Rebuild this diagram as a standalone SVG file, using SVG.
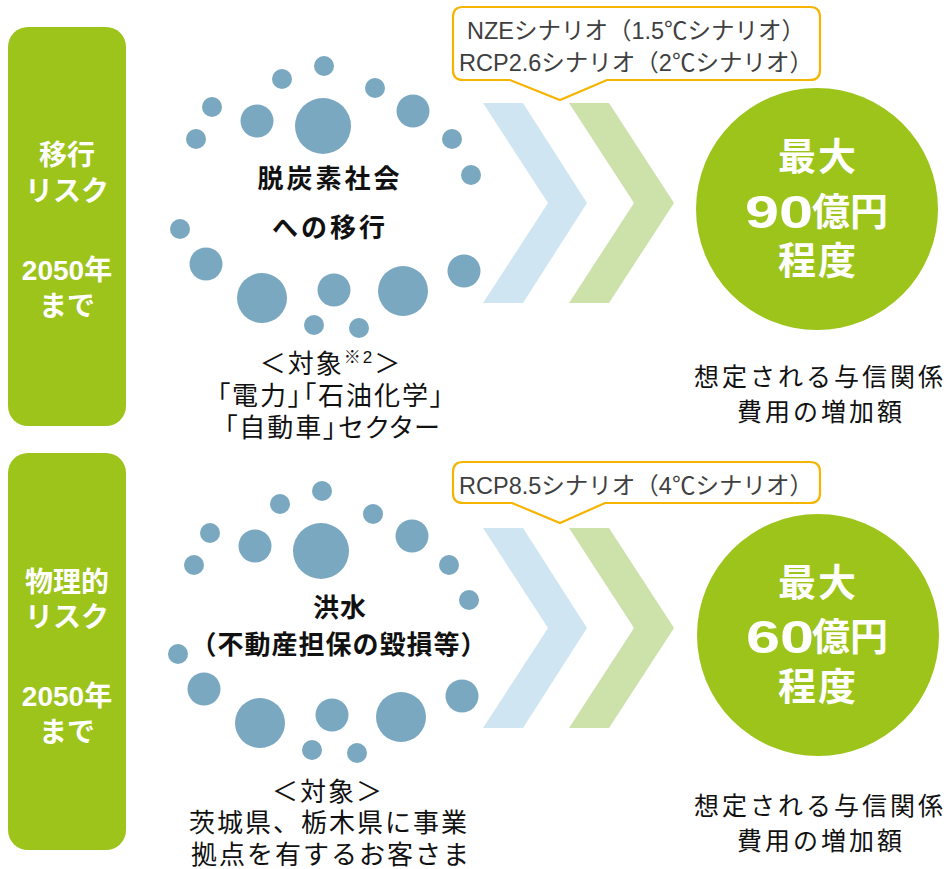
<svg xmlns="http://www.w3.org/2000/svg" width="946" height="869" viewBox="0 0 946 869">
<style>
text{font-family:"Liberation Sans","Noto Sans CJK JP",sans-serif;dominant-baseline:central;text-anchor:middle}
.side{fill:#9dc41b}
.sidet{font-size:28px;font-weight:bold;fill:#fff}
.dot{fill:#7aa8c0}
.lbl{font-size:26px;font-weight:bold;fill:#111;letter-spacing:3px}
.lbl2{font-size:26px;font-weight:bold;fill:#111;letter-spacing:1px}
.tgt{font-size:26px;fill:#111;letter-spacing:2px}
.palt{font-feature-settings:"palt"}
.co{fill:#fff;stroke:#f5b400;stroke-width:2.2}
.cot{font-size:23.5px;fill:#3f3f3f}
.chb{fill:#d0e5f2}
.chg{fill:#cde1ab}
.res{fill:#9dc41a}
.big{font-size:38px;font-weight:bold;fill:#fff;letter-spacing:2px}
.num{font-size:46px;font-weight:bold;fill:#fff;text-anchor:start}
.yen{font-size:38px;font-weight:bold;fill:#fff;text-anchor:start}
.cap{font-size:25px;fill:#111;letter-spacing:3px}
</style>

<g id="side-transition">
<rect class="side" x="8" y="27" width="118" height="399" rx="20"/>
<text class="sidet" x="67" y="155">移行</text>
<text class="sidet" x="67" y="191">リスク</text>
<text class="sidet" x="67" y="270">2050年</text>
<text class="sidet" x="67" y="306">まで</text>
</g>

<g id="side-physical">
<rect class="side" x="8" y="453" width="118" height="397" rx="20"/>
<text class="sidet" x="67" y="582">物理的</text>
<text class="sidet" x="67" y="617">リスク</text>
<text class="sidet" x="67" y="696">2050年</text>
<text class="sidet" x="67" y="732">まで</text>
</g>

<g id="dots-transition">
<circle class="dot" cx="324" cy="66" r="10"/>
<circle class="dot" cx="282" cy="79" r="10"/>
<circle class="dot" cx="375" cy="88" r="10"/>
<circle class="dot" cx="212" cy="107" r="10"/>
<circle class="dot" cx="257" cy="121" r="16.5"/>
<circle class="dot" cx="323" cy="126" r="28"/>
<circle class="dot" cx="413" cy="111" r="16.5"/>
<circle class="dot" cx="196" cy="139" r="10"/>
<circle class="dot" cx="452" cy="139" r="10"/>
<circle class="dot" cx="471" cy="175" r="10"/>
<circle class="dot" cx="180" cy="229" r="10"/>
<circle class="dot" cx="206" cy="264" r="16.5"/>
<circle class="dot" cx="262" cy="298" r="25"/>
<circle class="dot" cx="334" cy="290" r="16.5"/>
<circle class="dot" cx="403" cy="291" r="25"/>
<circle class="dot" cx="464" cy="271" r="16.5"/>
<circle class="dot" cx="314" cy="325" r="10"/>
<circle class="dot" cx="359" cy="328" r="10"/>
<text class="lbl" x="330" y="179">脱炭素社会</text>
<text class="lbl" x="330" y="228">への移行</text>
</g>

<g id="target-transition">
<text class="tgt" x="331" y="364">＜対象<tspan font-size="17" dy="-7">※2</tspan><tspan dy="7">＞</tspan></text>
<text class="tgt palt" x="331" y="396">「電力」「石油化学」</text>
<text class="tgt palt" x="333" y="428">「自動車」セクター</text>
</g>

<g id="dots-physical">
<circle class="dot" cx="322" cy="491" r="10"/>
<circle class="dot" cx="280" cy="504" r="10"/>
<circle class="dot" cx="373" cy="514" r="10"/>
<circle class="dot" cx="210" cy="533" r="10"/>
<circle class="dot" cx="255" cy="546" r="16.5"/>
<circle class="dot" cx="321" cy="551" r="28"/>
<circle class="dot" cx="412" cy="536" r="16.5"/>
<circle class="dot" cx="194" cy="565" r="10"/>
<circle class="dot" cx="449" cy="565" r="10"/>
<circle class="dot" cx="469" cy="600" r="10"/>
<circle class="dot" cx="178" cy="654" r="10"/>
<circle class="dot" cx="204" cy="689" r="16.5"/>
<circle class="dot" cx="260" cy="723" r="25"/>
<circle class="dot" cx="332" cy="715" r="16.5"/>
<circle class="dot" cx="401" cy="717" r="25"/>
<circle class="dot" cx="462" cy="696" r="16.5"/>
<circle class="dot" cx="312" cy="750" r="10"/>
<circle class="dot" cx="357" cy="753" r="10"/>
<text class="lbl2" x="340" y="608">洪水</text>
<text class="lbl2" x="339" y="645">（不動産担保の毀損等）</text>
</g>

<g id="target-physical">
<text class="tgt" x="328" y="792">＜対象＞</text>
<text class="tgt" x="329" y="823">茨城県、栃木県に事業</text>
<text class="tgt" x="331" y="855">拠点を有するお客さま</text>
</g>

<g id="callout-transition">
<path class="co" d="M463,7 H810 Q820,7 820,17 V70 Q820,80 810,80 H607 L560,100 L510,80 H463 Q453,80 453,70 V17 Q453,7 463,7 Z"/>
<text class="cot" x="636" y="30.5">NZEシナリオ（1.5℃シナリオ）</text>
<text class="cot" x="636" y="62.5">RCP2.6シナリオ（2℃シナリオ）</text>
</g>

<g id="callout-physical">
<path class="co" d="M463,462 H810 Q820,462 820,472 V493 Q820,503 810,503 H605 L560,523 L512,503 H463 Q453,503 453,493 V472 Q453,462 463,462 Z"/>
<text class="cot" x="636" y="486">RCP8.5シナリオ（4℃シナリオ）</text>
</g>

<g id="connectors">
<polygon class="chb" points="483,103 523,103 587,203 523,303 483,303 548,203"/>
<polygon class="chg" points="569,103 609,103 674,203 609,303 569,303 634,203"/>
<polygon class="chb" points="483,528 523,528 587,628 523,728 483,728 548,628"/>
<polygon class="chg" points="569,528 609,528 674,628 609,728 569,728 634,628"/>
</g>

<g id="result-transition">
<circle class="res" cx="817" cy="209" r="121"/>
<text class="big" x="818" y="157">最大</text>
<text class="num" x="745" y="212" textLength="68" lengthAdjust="spacingAndGlyphs">90</text>
<text class="yen" x="812" y="212">億円</text>
<text class="big" x="818" y="261">程度</text>
<text class="cap" x="820" y="377">想定される与信関係</text>
<text class="cap" x="821" y="412">費用の増加額</text>
</g>

<g id="result-physical">
<circle class="res" cx="818" cy="635" r="121"/>
<text class="big" x="818" y="583">最大</text>
<text class="num" x="746" y="637" textLength="68" lengthAdjust="spacingAndGlyphs">60</text>
<text class="yen" x="812" y="637">億円</text>
<text class="big" x="818" y="687">程度</text>
<text class="cap" x="820" y="806">想定される与信関係</text>
<text class="cap" x="821" y="841">費用の増加額</text>
</g>
</svg>
